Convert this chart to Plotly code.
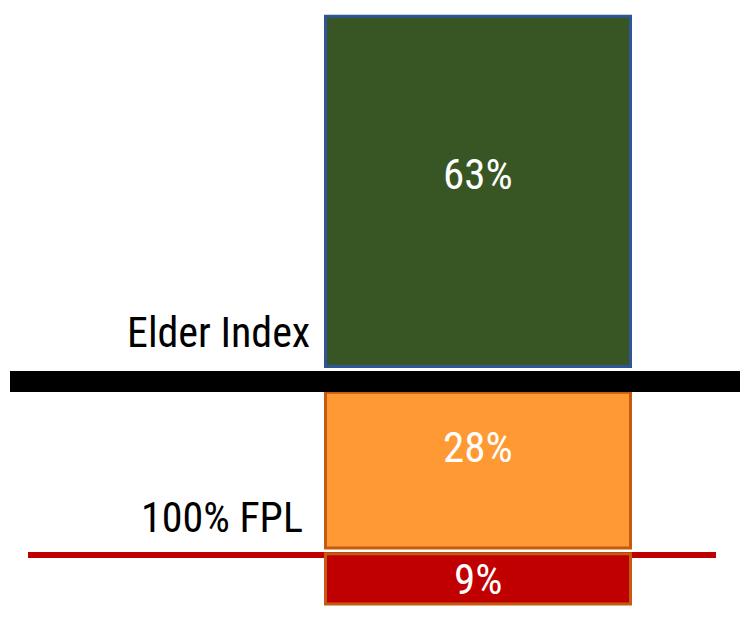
import plotly.graph_objects as go

# ---- data ----
segments = ["Below 100% FPL", "100% FPL to Elder Index", "Above Elder Index"]
values = [9, 28, 63]
fills = ["#C00000", "#FF9933", "#375623"]
borders = ["#C55A11", "#C55A11", "#2F5597"]
threshold_labels = ["100% FPL", "Elder Index"]

# ---- layout constants (pixels / units) ----
W, H = 740, 634
k = 5.56            # px per percentage point
p0 = 603.9          # pixel row of value 0
gaps = [0, 1.07, 4.63]   # visual gap below each segment (units)
ymax = p0 / k
ymin = -(H - p0) / k
bar_x = 478 / W
bar_w = 305 / W
FONT = "Liberation Sans Narrow, Roboto Condensed, Liberation Sans, sans-serif"

fig = go.Figure()
bases = []
b = 0
for i, v in enumerate(values):
    b += gaps[i]
    bases.append(b)
    fig.add_trace(go.Bar(
        x=[bar_x], y=[v], base=[b], width=[bar_w],
        marker=dict(color=fills[i], line=dict(color=borders[i], width=3)),
        name=segments[i], showlegend=False, hoverinfo="skip",
    ))
    b += v

# value labels
label_frac = [0.5, 0.65, 0.55]
for i, v in enumerate(values):
    fig.add_annotation(x=bar_x, y=bases[i] + v * label_frac[i], text=f"{v}%",
                       showarrow=False, font=dict(color="white", size=43, family=FONT),
                       xanchor="center", yanchor="middle")

# threshold lines
red_line_y = bases[0] + values[0] - 0.2
black_line_y = (p0 - 381.5) / k
fig.add_shape(type="line", xref="paper", yref="y", x0=28 / W, x1=716 / W,
              y0=red_line_y, y1=red_line_y, line=dict(color="#C00000", width=6), layer="below")
fig.add_shape(type="line", xref="paper", yref="y", x0=10 / W, x1=1,
              y0=black_line_y, y1=black_line_y, line=dict(color="black", width=21), layer="above")

# threshold labels
fig.add_annotation(xref="paper", x=305 / W, y=(p0 - 517) / k, text=threshold_labels[0],
                   showarrow=False, xanchor="right", yanchor="middle",
                   font=dict(color="black", size=42, family=FONT))
fig.add_annotation(xref="paper", x=312 / W, y=(p0 - 332) / k, text=threshold_labels[1],
                   showarrow=False, xanchor="right", yanchor="middle",
                   font=dict(color="black", size=42, family=FONT))

fig.update_layout(
    width=W, height=H, margin=dict(l=0, r=0, t=0, b=0),
    paper_bgcolor="white", plot_bgcolor="white",
    barmode="overlay",
    xaxis=dict(range=[0, 1], visible=False, fixedrange=True),
    yaxis=dict(range=[ymin, ymax], visible=False, fixedrange=True),
)
fig.write_html("out.html", config={"displayModeBar": False, "staticPlot": True},
               post_script="document.body.style.margin='0';document.body.style.overflow='hidden';")
